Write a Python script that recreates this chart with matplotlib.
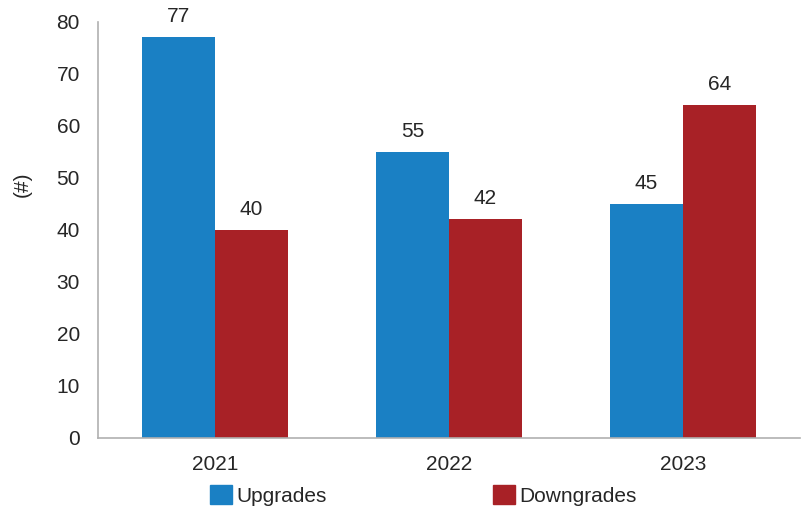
import numpy as np
import matplotlib.pyplot as plt
from matplotlib.patches import Patch

# Datos
anios = ["2021", "2022", "2023"]
upgrades = [77, 55, 45]
downgrades = [40, 42, 64]

azul = "#1A80C4"
rojo = "#A82126"
texto = "#262626"

plt.rcParams['font.family'] = ['Liberation Sans', 'DejaVu Sans']

fig = plt.figure(figsize=(8.03, 5.08), dpi=100)
ax = fig.add_axes([0.122, 0.138, 0.874, 0.819])

x = np.arange(len(anios))
ancho = 0.312
b1 = ax.bar(x - ancho / 2, upgrades, ancho, color=azul)
b2 = ax.bar(x + ancho / 2, downgrades, ancho, color=rojo)

for barras in (b1, b2):
    ax.bar_label(barras, padding=8, fontsize=15, color=texto)

ax.set_xlim(-0.5, 2.5)
ax.set_ylim(0, 80)
ax.set_yticks(range(0, 81, 10))
ax.set_xticks(x)
ax.set_xticklabels(anios)
ax.tick_params(axis="both", length=0, labelsize=15, labelcolor=texto)
ax.tick_params(axis="y", pad=13)
ax.tick_params(axis="x", pad=12)

for lado in ("top", "right"):
    ax.spines[lado].set_visible(False)
ax.spines["left"].set_color("#B0B0B0")
ax.spines["bottom"].set_color("#B0B0B0")
ax.spines["left"].set_linewidth(1.2)
ax.spines["bottom"].set_linewidth(1.2)

fig.text(0.028, 0.638, "(#)", rotation=90, fontsize=15, color=texto,
         ha="center", va="center")

manejadores = [Patch(color=azul, label="Upgrades"), Patch(color=rojo, label="Downgrades")]
fig.legend(handles=manejadores, loc="center", bbox_to_anchor=(0.527, 0.025), ncol=2,
           frameon=False, fontsize=15, handlelength=1.05, handleheight=1.05,
           handletextpad=0.2, columnspacing=8.0, labelcolor=texto)

fig.savefig("out.png", dpi=100)
